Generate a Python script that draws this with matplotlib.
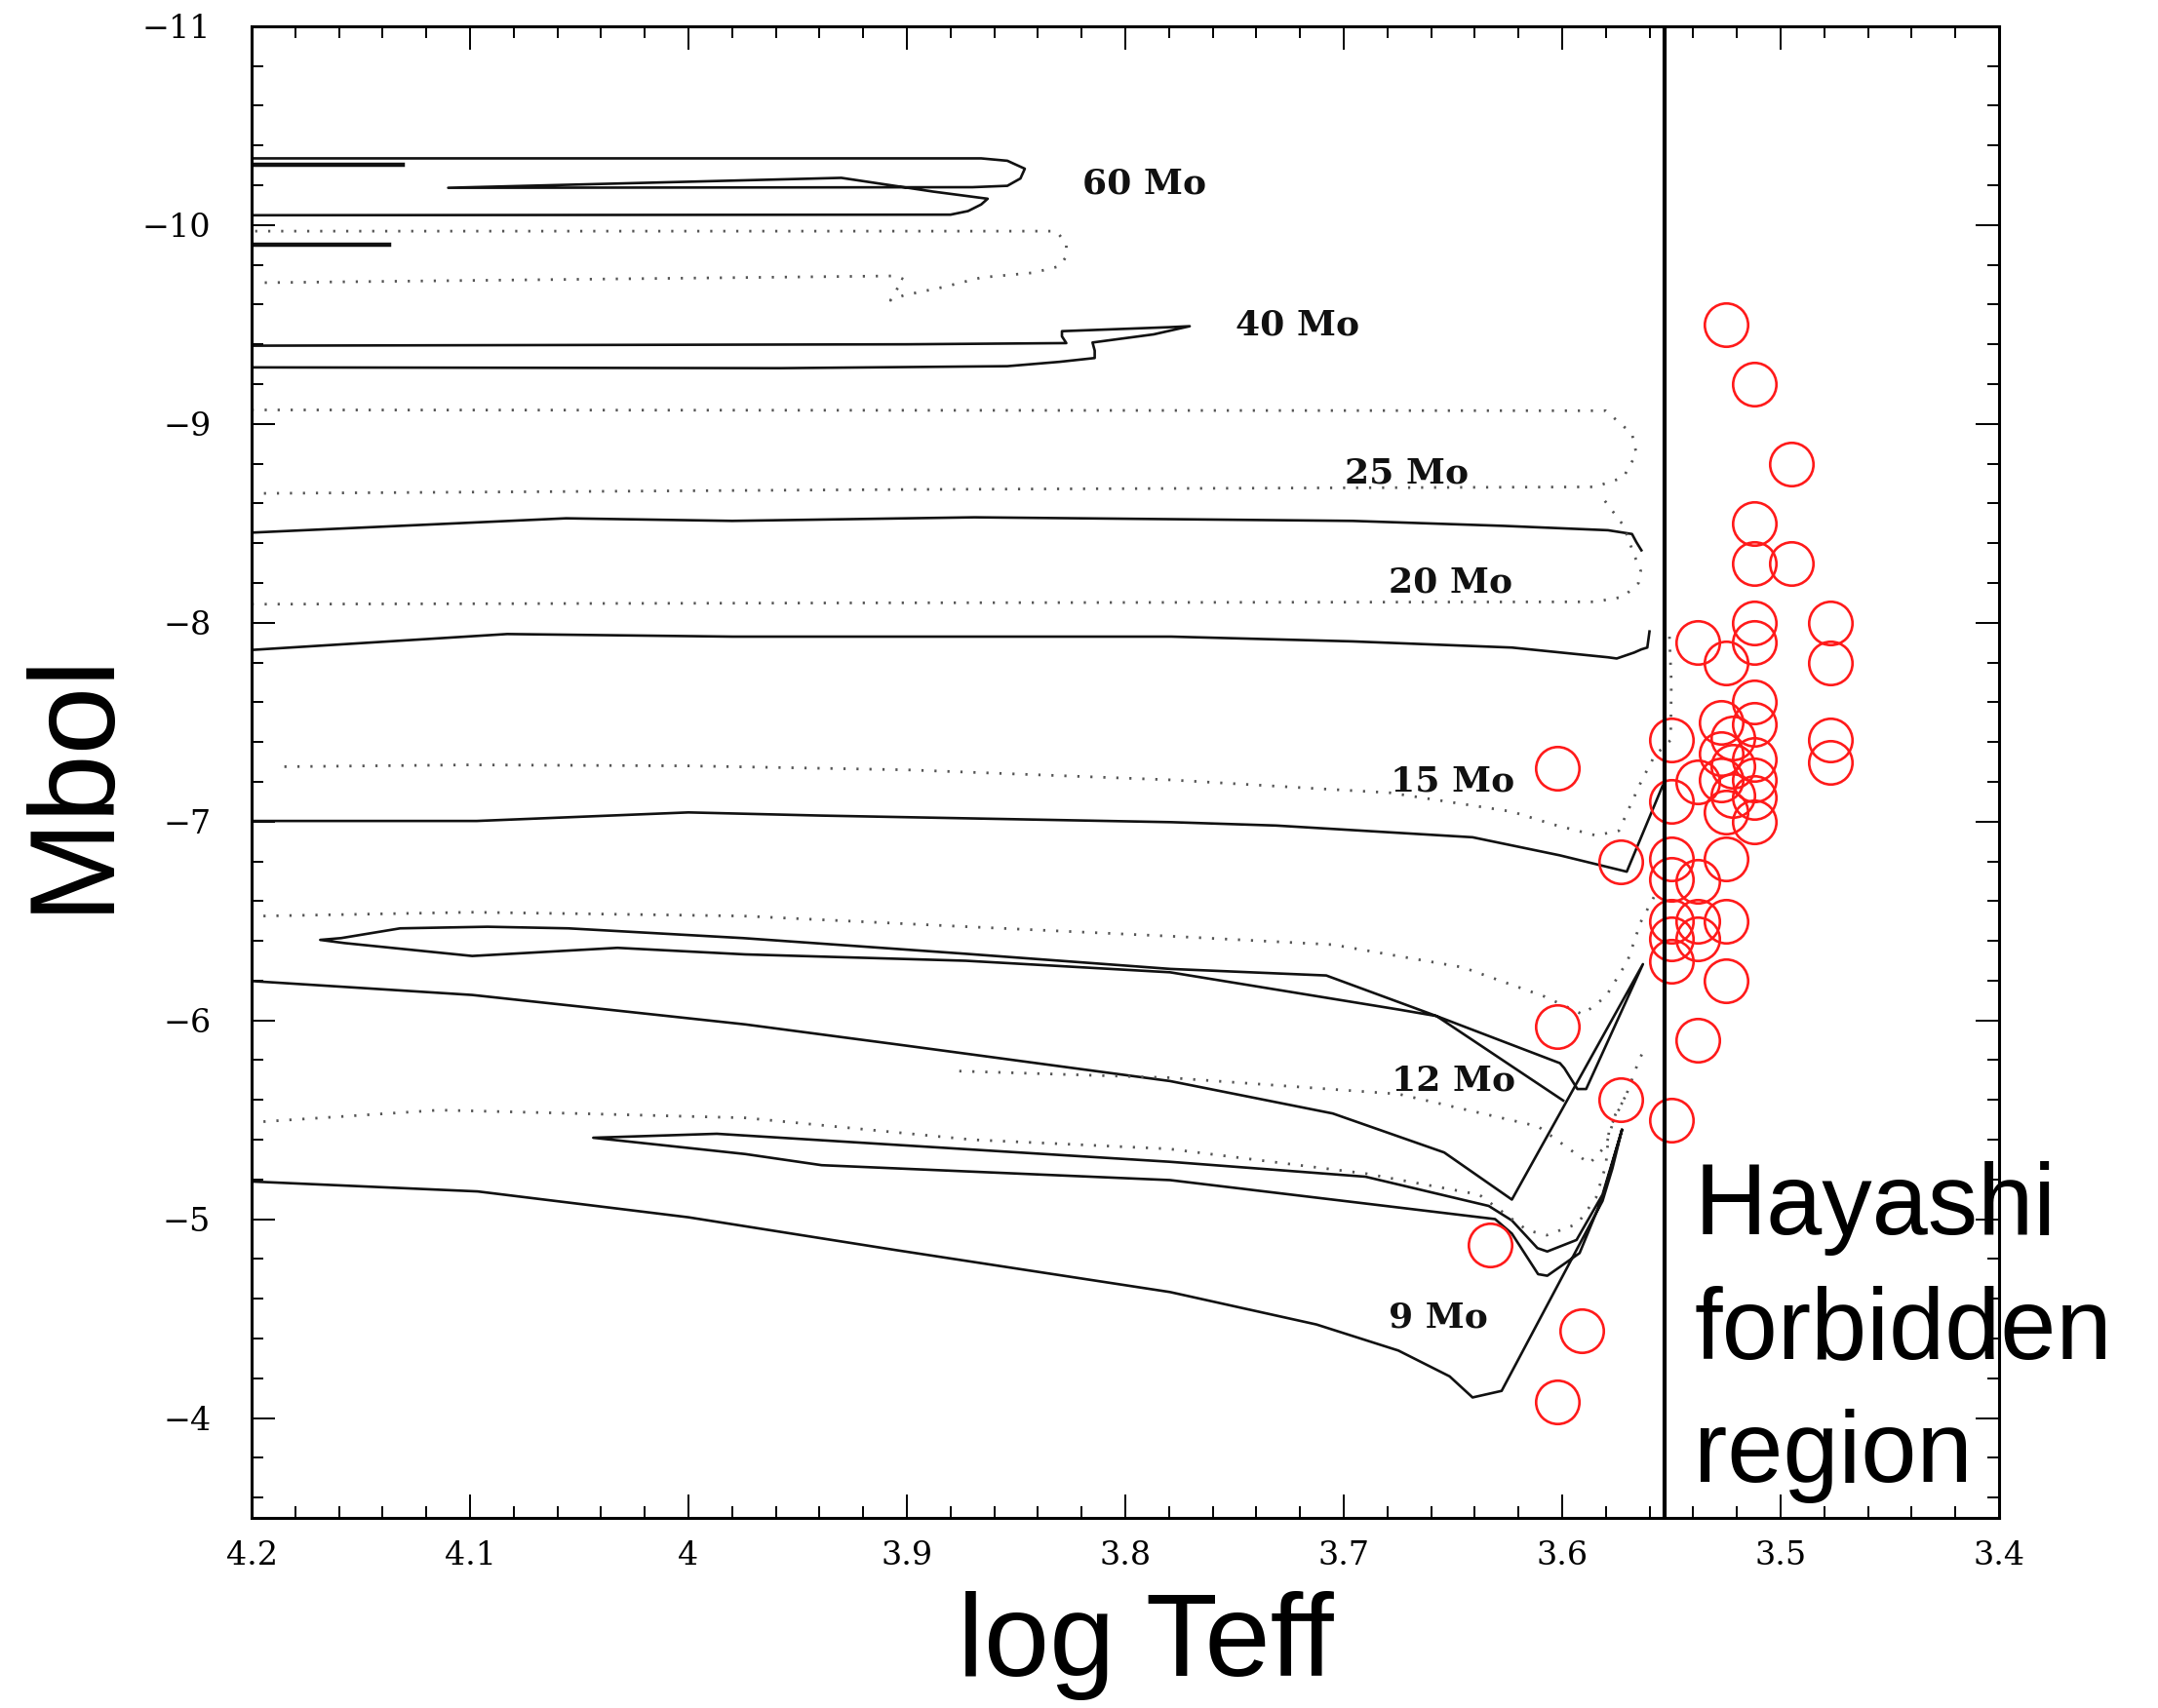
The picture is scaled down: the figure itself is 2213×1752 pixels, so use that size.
import numpy as np
import matplotlib.pyplot as plt
from matplotlib.ticker import MultipleLocator, FuncFormatter

# red supergiants (log Teff, Mbol)
rsg_teff = [3.525, 3.512, 3.495, 3.512, 3.512, 3.495, 3.512, 3.477, 3.477, 3.538,
            3.512, 3.525, 3.512, 3.512, 3.512, 3.512, 3.512, 3.512,
            3.527, 3.522, 3.527, 3.522, 3.527, 3.522, 3.525,
            3.477, 3.477, 3.550, 3.550, 3.538, 3.602, 3.573, 3.550, 3.525,
            3.550, 3.538, 3.550, 3.538, 3.525, 3.550, 3.538, 3.550, 3.525,
            3.538, 3.602, 3.573, 3.550, 3.633, 3.591, 3.602]
rsg_mbol = [-9.50, -9.20, -8.80, -8.50, -8.30, -8.30, -8.00, -8.00, -7.80, -7.90,
            -7.90, -7.80, -7.60, -7.49, -7.31, -7.21, -7.12, -7.00,
            -7.50, -7.42, -7.34, -7.28, -7.21, -7.13, -7.05,
            -7.41, -7.30, -7.41, -7.10, -7.20, -7.27, -6.80, -6.81, -6.81,
            -6.71, -6.70, -6.50, -6.50, -6.50, -6.41, -6.41, -6.30, -6.20,
            -5.90, -5.97, -5.60, -5.50, -4.87, -4.44, -4.08]

hayashi_limit = 3.553

# solid tracks
t60_x = [4.2, 3.866, 3.854, 3.846, 3.848, 3.854, 3.87, 4.11, 3.930, 3.913, 3.888,
         3.863, 3.866, 3.872, 3.88, 4.2]
t60_y = [-10.335, -10.335, -10.323, -10.283, -10.234, -10.197, -10.19, -10.187,
         -10.237, -10.209, -10.168, -10.132, -10.103, -10.07, -10.052, -10.049]
t60b_x = [4.2, 4.131]
t60b_y = [-10.305, -10.305]
t60c_x = [4.2, 4.137]
t60c_y = [-9.903, -9.903]
t40_x = [4.2, 3.9, 3.827, 3.829, 3.829, 3.78, 3.7705, 3.787, 3.815, 3.814, 3.814,
         3.83, 3.854, 3.958, 4.2]
t40_y = [-9.393, -9.40, -9.406, -9.44, -9.466, -9.486, -9.491, -9.45, -9.409,
         -9.368, -9.331, -9.312, -9.29, -9.28, -9.284]
t25_x = [4.2, 4.056, 3.98, 3.869, 3.696, 3.627, 3.579, 3.568, 3.566, 3.5637]
t25_y = [-8.453, -8.525, -8.512, -8.53, -8.512, -8.487, -8.465, -8.446, -8.405, -8.364]
t20_x = [4.2, 4.083, 3.98, 3.779, 3.696, 3.623, 3.579, 3.575, 3.567, 3.5637, 3.561, 3.560]
t20_y = [-7.863, -7.943, -7.93, -7.93, -7.906, -7.875, -7.826, -7.82, -7.85, -7.866,
         -7.875, -7.956]
t15_x = [4.2, 4.097, 4.0, 3.939, 3.779, 3.731, 3.641, 3.601, 3.5704, 3.554]
t15_y = [-7.003, -7.003, -7.046, -7.03, -6.997, -6.98, -6.921, -6.83, -6.748, -7.18]
t12_x = [4.2, 4.099, 3.974, 3.905, 3.7795, 3.705, 3.654, 3.623, 3.563,
         3.589, 3.593, 3.599, 3.601, 3.6575, 3.708, 3.7795, 3.873, 3.975, 4.055,
         4.092, 4.132, 4.159, 4.1686, 4.1575, 4.099, 4.0325, 3.974, 3.873, 3.7795,
         3.675, 3.6575, 3.5995]
t12_y = [-6.198, -6.128, -5.98, -5.88, -5.695, -5.532, -5.336, -5.099, -6.283,
         -5.655, -5.655, -5.76, -5.785, -6.022, -6.226, -6.259, -6.335, -6.414,
         -6.463, -6.471, -6.463, -6.414, -6.405, -6.389, -6.324, -6.365, -6.332,
         -6.30, -6.242, -6.055, -6.022, -5.597]
t9_x = [4.2, 4.0965, 4.0, 3.905, 3.7795, 3.7125, 3.675, 3.6515, 3.641, 3.6277,
        3.5815, 3.577, 3.5726, 3.5815, 3.592, 3.6068, 3.611, 3.623, 3.6307, 3.7795,
        3.939, 3.974, 4.0436, 3.987, 3.7795, 3.690, 3.6336, 3.623, 3.6113, 3.6068,
        3.5934, 3.5815, 3.5726]
t9_y = [-5.19, -5.14, -5.01, -4.845, -4.634, -4.471, -4.34, -4.21, -4.104, -4.137,
        -5.092, -5.255, -5.45, -5.11, -4.83, -4.716, -4.724, -4.928, -5.001, -5.197,
        -5.272, -5.328, -5.41, -5.43, -5.289, -5.214, -5.067, -4.994, -4.855, -4.838,
        -4.896, -5.124, -5.45]

# dotted tracks
d60_x = [4.194, 3.905, 3.9015, 3.9045, 3.9075, 3.9015, 3.8836, 3.8658, 3.842, 3.830,
         3.827, 3.827, 3.8316, 3.87, 4.2]
d60_y = [-9.71, -9.744, -9.727, -9.678, -9.621, -9.646, -9.687, -9.736, -9.76, -9.793,
         -9.842, -9.907, -9.969, -9.969, -9.969]
d25_x = [4.2, 3.9, 3.58, 3.568, 3.566, 3.572, 3.585, 3.9, 4.2]
d25_y = [-9.07, -9.068, -9.066, -8.95, -8.85, -8.73, -8.683, -8.67, -8.65]
d20_x = [4.2, 3.9, 3.585, 3.572, 3.565, 3.564, 3.567, 3.572, 3.583]
d20_y = [-8.093, -8.10, -8.105, -8.13, -8.20, -8.26, -8.34, -8.49, -8.65]
d15_x = [4.185, 4.1, 4.0, 3.9, 3.78, 3.7125, 3.679, 3.623, 3.604, 3.5845, 3.574,
         3.5637, 3.5577, 3.5503, 3.550, 3.551]
d15_y = [-7.276, -7.285, -7.28, -7.26, -7.21, -7.166, -7.145, -7.05, -6.985, -6.93,
         -6.954, -7.204, -7.33, -7.41, -7.70, -7.964]
d12_x = [4.1946, 4.0995, 3.975, 3.87, 3.7765, 3.705, 3.6455, 3.608, 3.5905, 3.580,
         3.570, 3.564, 3.558]
d12_y = [-6.525, -6.544, -6.525, -6.47, -6.422, -6.381, -6.267, -6.12, -6.03, -6.12,
         -6.30, -6.495, -6.62]
d12b_x = [3.876, 3.78, 3.675, 3.611, 3.5875, 3.580, 3.5755, 3.571, 3.565, 3.563]
d12b_y = [-5.745, -5.712, -5.63, -5.467, -5.28, -5.37, -5.53, -5.614, -5.794, -5.842]
d9_x = [4.1946, 4.114, 4.055, 3.974, 3.87, 3.78, 3.69, 3.638, 3.616, 3.607, 3.593,
        3.5845, 3.580, 3.5785, 3.571]
d9_y = [-5.491, -5.549, -5.533, -5.51, -5.40, -5.354, -5.23, -5.124, -4.945, -4.92,
        -4.977, -5.108, -5.27, -5.45, -5.62]

mass_labels = ['60 Mo', '40 Mo', '25 Mo', '20 Mo', '15 Mo', '12 Mo', '9 Mo']
label_x = [3.7914, 3.7213, 3.6712, 3.6512, 3.650, 3.6497, 3.6567]
label_y = [-10.206, -9.498, -8.753, -8.202, -7.204, -5.699, -4.507]

solid = [(t60_x, t60_y), (t40_x, t40_y), (t25_x, t25_y), (t20_x, t20_y),
         (t15_x, t15_y), (t12_x, t12_y), (t9_x, t9_y)]
thick = [(t60b_x, t60b_y), (t60c_x, t60c_y)]
dotted = [(d60_x, d60_y), (d25_x, d25_y), (d20_x, d20_y), (d15_x, d15_y),
          (d12_x, d12_y), (d12b_x, d12b_y), (d9_x, d9_y)]

fig = plt.figure(figsize=(22.13, 17.52), dpi=100)
ax = fig.add_axes([0.1166, 0.1115, 0.8097, 0.8732])

for x, y in solid:
    ax.plot(x, y, color='#111111', lw=1.9, solid_joinstyle='round')
for x, y in thick:
    ax.plot(x, y, color='#111111', lw=3.2)
for x, y in dotted:
    ax.plot(x, y, color='#555555', lw=2.0, dashes=(0.8, 4.0))

for s, x, y in zip(mass_labels, label_x, label_y):
    ax.text(x, y, s, ha='center', va='center', fontsize=26, family='DejaVu Serif',
            fontweight='bold', color='#111111')

ax.plot(rsg_teff, rsg_mbol, 'o', ms=32, mfc='none', mec='#ff1a1a', mew=1.9)

ax.axvline(hayashi_limit, color='black', lw=3)
for s, y in zip(['Hayashi', 'forbidden', 'region'], [-4.927, -4.303, -3.678]):
    ax.text(3.5395, y, s, ha='left', va='baseline', fontsize=74,
            family='Liberation Sans')

ax.set_xlim(4.2, 3.4)
ax.set_ylim(-3.5, -11)
ax.xaxis.set_major_locator(MultipleLocator(0.1))
ax.xaxis.set_minor_locator(MultipleLocator(0.02))
ax.yaxis.set_major_locator(MultipleLocator(1))
ax.yaxis.set_minor_locator(MultipleLocator(0.2))
ax.xaxis.set_major_formatter(FuncFormatter(lambda v, p: '%g' % round(v, 2)))
ax.yaxis.set_major_formatter(FuncFormatter(lambda v, p: ('%g' % v).replace('-', '\u2212')))
ax.tick_params(which='both', direction='in', top=True, right=True, width=1.4)
ax.tick_params(which='major', length=17)
ax.tick_params(which='minor', length=8.5)
ax.tick_params(axis='x', pad=17)
ax.tick_params(axis='y', pad=30)
for lab in ax.get_xticklabels() + ax.get_yticklabels():
    lab.set_family('DejaVu Serif')
    lab.set_fontsize(24)
for sp in ax.spines.values():
    sp.set_linewidth(2.2)

# axis titles
fig.text(0.531, 0.019, 'log Teff', ha='center', va='baseline', fontsize=87,
         family='Liberation Sans')
fig.text(0.034, 0.543, 'Mbol', ha='center', va='center', rotation=90, fontsize=90,
         family='Liberation Sans')

fig.savefig('out.png', dpi=100, facecolor='white')
